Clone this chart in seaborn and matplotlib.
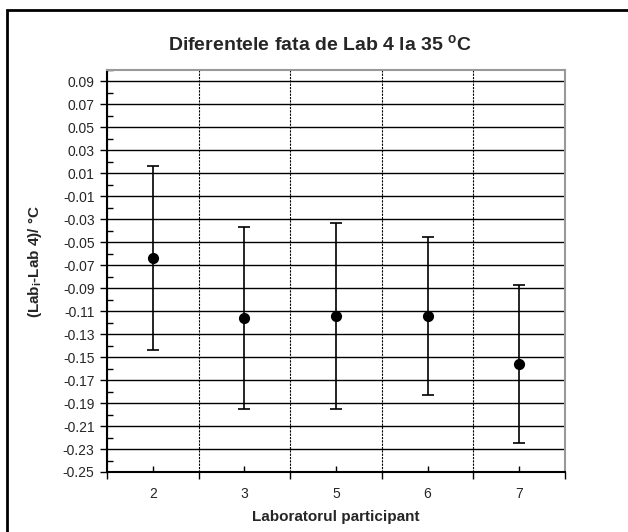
import numpy as np
import pandas as pd
import seaborn as sns
import matplotlib
matplotlib.use("Agg")
import matplotlib.pyplot as plt
import matplotlib.patches as patches
from matplotlib.ticker import FixedLocator, FormatStrFormatter

# Datele
laboratoare = ["2", "3", "5", "6", "7"]
diferente = [-0.064, -0.116, -0.114, -0.114, -0.156]
incertitudini = [0.080, 0.079, 0.081, 0.069, 0.069]

sns.set_theme(style="white")
plt.rcParams["font.family"] = ["Liberation Sans", "DejaVu Sans"]
plt.rcParams["mathtext.fontset"] = "custom"
plt.rcParams["mathtext.rm"] = "Liberation Sans"
plt.rcParams["mathtext.bf"] = "Liberation Sans:bold"

df = pd.DataFrame({"lab": laboratoare, "dif": diferente, "U": incertitudini})

fig = plt.figure(figsize=(6.28, 5.32), dpi=100)
ax = fig.add_axes([107 / 628, 1 - 472 / 532, (565 - 107) / 628, (472 - 70) / 532])

# puncte
sns.pointplot(data=df, x="lab", y="dif", ax=ax, color="black", linestyle="none",
              markers="o", errorbar=None, markersize=6, zorder=5)
# bare de eroare
pos = np.arange(len(laboratoare))
ax.errorbar(pos, df["dif"], yerr=df["U"], fmt="none", ecolor="black",
            elinewidth=1.2, capsize=4, capthick=1.2, zorder=4)

ax.set_xlim(-0.5, len(laboratoare) - 0.5)
ax.set_ylim(-0.25, 0.10)

# axa y
ax.yaxis.set_major_locator(FixedLocator(np.arange(-0.25, 0.0951, 0.02)))
ax.yaxis.set_minor_locator(FixedLocator(np.arange(-0.24, 0.1051, 0.02)))
ax.yaxis.set_major_formatter(FormatStrFormatter("%.2f"))
ax.tick_params(axis="y", which="major", direction="out", length=5, width=1,
               color="black", labelsize=10, pad=4, left=True)
ax.tick_params(axis="y", which="minor", direction="in", length=4, width=1,
               color="black", left=True)

# axa x
ax.set_xticks(pos)
ax.set_xticklabels(laboratoare)
ax.xaxis.set_minor_locator(FixedLocator(np.arange(-0.5, len(laboratoare), 1.0)))
ax.tick_params(axis="x", which="major", direction="in", length=4, width=1,
               color="black", labelsize=10, pad=11, bottom=True)
ax.tick_params(axis="x", which="minor", direction="out", length=5, width=1,
               color="black", bottom=True)

# grile
ax.grid(False)
ax.yaxis.grid(True, which="major", color="black", linewidth=1.0)
ax.xaxis.grid(True, which="minor", color="black", linewidth=0.8, linestyle=(0, (2, 1)))
ax.set_axisbelow(True)

for side in ["left", "bottom"]:
    ax.spines[side].set_color("black")
    ax.spines[side].set_linewidth(1.5)
for side in ["top", "right"]:
    ax.spines[side].set_color("#999999")
    ax.spines[side].set_linewidth(1.5)

ax.set_xlabel("")
ax.set_ylabel("")
fig.text(336 / 628, 1 - 517 / 532, "Laboratorul participant", ha="center", va="center",
         fontsize=11, fontweight="bold")
fig.text(35 / 628, 1 - 262 / 532, r"(Lab$_{\mathbf{i}}$-Lab 4)/ °C", ha="center", va="center",
         rotation=90, fontsize=11, fontweight="bold")
fig.text(320 / 628, 1 - 45 / 532, r"Diferentele fata de Lab 4 la 35 $^{\mathbf{o}}$C",
         ha="center", va="center", fontsize=14, fontweight="bold")

# chenarul graficului
fig.patches.append(patches.Rectangle((7 / 628, -0.1), 1.2, 1 - 10 / 532 + 0.1,
                                     transform=fig.transFigure, fill=False,
                                     edgecolor="black", linewidth=2))

fig.savefig("out.png", dpi=100, facecolor="white")
